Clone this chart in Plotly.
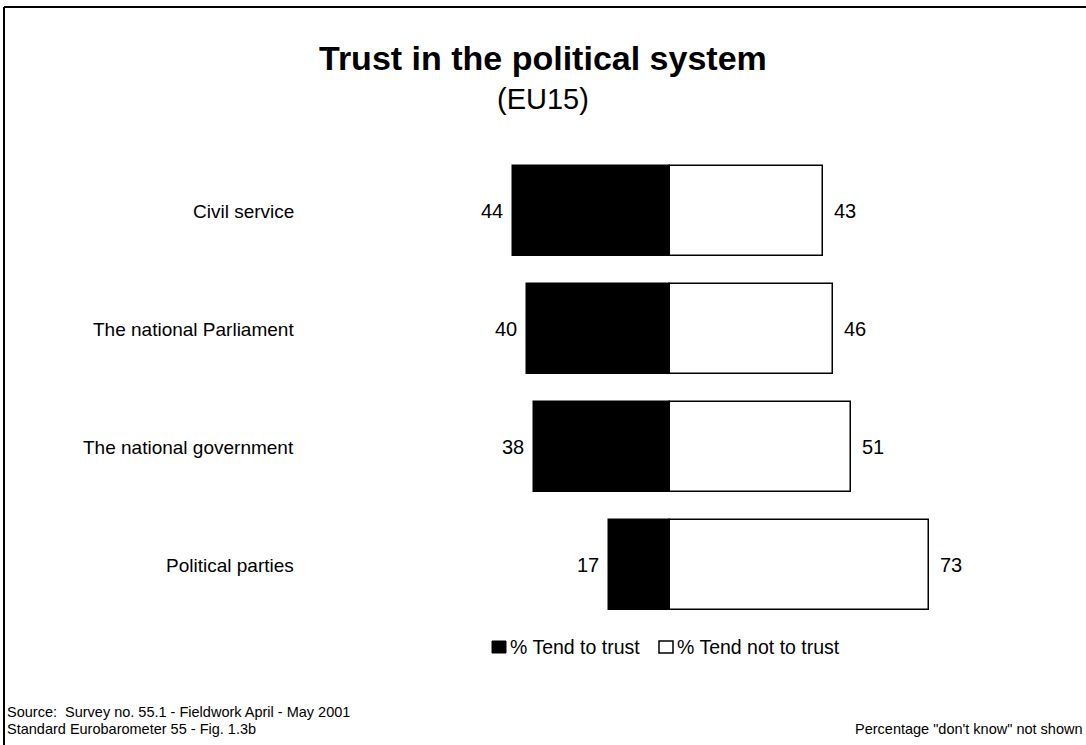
import plotly.graph_objects as go

# Survey data (EU15)
institutions = ["Civil service", "The national Parliament", "The national government", "Political parties"]
tend_to_trust = [44, 40, 38, 17]
tend_not_to_trust = [43, 46, 51, 73]

W, H = 1086, 745
FONT = "Arial, Liberation Sans, sans-serif"

# Pixel geometry of the plotting scale
zero_px = 669.5
px_per_unit = 3.56
row0_px = 211.0
row_step = 118.0

x_range = [-zero_px / px_per_unit, (W - zero_px) / px_per_unit]
y_range = [(H - row0_px) / row_step, -row0_px / row_step]

ypos = list(range(len(institutions)))

fig = go.Figure()
fig.add_trace(go.Bar(
    y=ypos, x=[-v for v in tend_to_trust], orientation="h", base=0,
    width=0.755, marker=dict(color="black", line=dict(color="black", width=1.5)),
    name="% Tend to trust", showlegend=False, hoverinfo="skip",
))
fig.add_trace(go.Bar(
    y=ypos, x=tend_not_to_trust, orientation="h", base=0,
    width=0.755, marker=dict(color="white", line=dict(color="black", width=1.5)),
    name="% Tend not to trust", showlegend=False, hoverinfo="skip",
))


def txt(size):
    return dict(size=size, family=FONT, color="black")


def paper_note(x, y, text, size, anchor="left", **kw):
    return dict(xref="paper", yref="paper", x=x / W, y=1 - y / H, text=text, showarrow=False,
                xanchor=anchor, yanchor="middle", font=txt(size), **kw)


annotations = []
for i, name in enumerate(institutions):
    annotations.append(dict(x=(296 - zero_px) / px_per_unit, y=i, text=name, showarrow=False,
                            xanchor="right", yanchor="middle", font=txt(19)))
    annotations.append(dict(x=-tend_to_trust[i], y=i, text=str(tend_to_trust[i]), showarrow=False,
                            xanchor="right", yanchor="middle", xshift=-8, font=txt(20)))
    annotations.append(dict(x=tend_not_to_trust[i], y=i, text=str(tend_not_to_trust[i]), showarrow=False,
                            xanchor="left", yanchor="middle", xshift=9, font=txt(20)))

# Title
annotations.append(paper_note(543, 58, "<b>Trust in the political system</b>", 34, anchor="center"))
annotations.append(paper_note(543, 99, "(EU15)", 29, anchor="center"))

# Legend text
annotations.append(paper_note(508, 647, "% Tend to trust", 19.5))
annotations.append(paper_note(675, 647, "% Tend not to trust", 19.5))

# Footer notes
annotations.append(paper_note(5, 712, "Source:  Survey no. 55.1 - Fieldwork April - May 2001", 14.5))
annotations.append(paper_note(5, 729, "Standard Eurobarometer 55 - Fig. 1.3b", 14.5))
annotations.append(paper_note(1084, 729, "Percentage \"don't know\" not shown", 14.5, anchor="right"))

shapes = [
    # legend swatches
    dict(type="rect", xref="paper", yref="paper", x0=492 / W, x1=506 / W, y0=1 - 653 / H, y1=1 - 641 / H,
         fillcolor="black", line=dict(color="black", width=1)),
    dict(type="rect", xref="paper", yref="paper", x0=659 / W, x1=673 / W, y0=1 - 653 / H, y1=1 - 641 / H,
         fillcolor="white", line=dict(color="black", width=1.5)),
    # page frame: top and left rules
    dict(type="line", xref="paper", yref="paper", x0=4 / W, x1=1, y0=1 - 7 / H, y1=1 - 7 / H,
         line=dict(color="black", width=2)),
    dict(type="line", xref="paper", yref="paper", x0=4 / W, x1=4 / W, y0=0, y1=1 - 7 / H,
         line=dict(color="black", width=2)),
]

fig.update_layout(
    width=W, height=H,
    margin=dict(l=0, r=0, t=0, b=0),
    paper_bgcolor="white", plot_bgcolor="white",
    barmode="overlay", bargap=0,
    xaxis=dict(range=x_range, visible=False, fixedrange=True),
    yaxis=dict(range=y_range, visible=False, fixedrange=True),
    annotations=annotations, shapes=shapes,
    showlegend=False,
)

fig.write_html("out.html")
